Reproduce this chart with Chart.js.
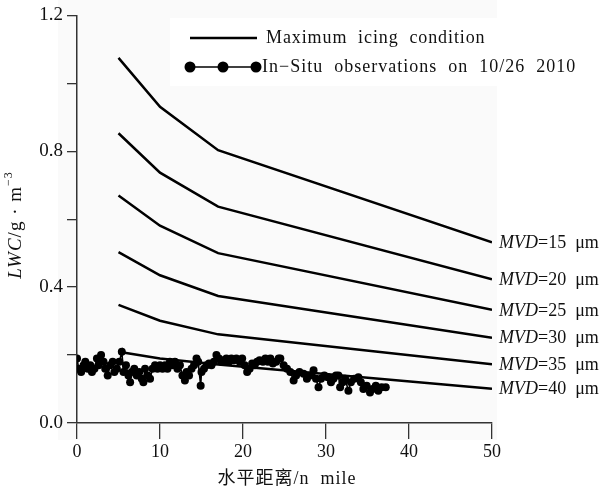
<!DOCTYPE html>
<html>
<head>
<meta charset="utf-8">
<script src="https://cdn.jsdelivr.net/npm/chart.js@4"></script>
<style>
  html, body { margin: 0; padding: 0; background: #fff; }
  #wrap { width: 606px; height: 492px; }
</style>
</head>
<body>
<div id="wrap"><canvas id="lwcChart" width="606" height="492"></canvas></div>
<script>
// Maximum icing condition curves (MVD in um)
const mvdSizes = [15, 20, 25, 30, 35, 40];
const mvdDistance = [5, 10, 17, 50];
const mvd15 = [1.075, 0.931, 0.803, 0.532];
const mvd20 = [0.853, 0.737, 0.637, 0.423];
const mvd25 = [0.670, 0.581, 0.500, 0.333];
const mvd30 = [0.503, 0.435, 0.374, 0.251];
const mvd35 = [0.348, 0.301, 0.261, 0.173];
const mvd40 = [0.210, 0.190, 0.172, 0.101];

// In-situ observations on 10/26 2010
const obsDistance = [0.0, 0.2, 0.5, 0.8, 1.0, 1.3, 1.6, 1.8, 2.1, 2.4, 2.6, 2.9, 3.2, 3.4, 3.7, 4.0, 4.3, 4.5, 4.8, 5.1,
  5.4, 5.6, 5.9, 6.2, 6.4, 6.6, 6.9, 7.2, 7.5, 7.8, 8.0, 8.2, 8.5, 8.8, 9.1, 9.4, 9.7, 10.0, 10.3, 10.6,
  10.9, 11.2, 11.5, 11.8, 12.1, 12.4, 12.7, 13.0, 13.2, 13.5, 13.8, 14.1, 14.4, 14.6, 14.9, 15.0, 15.3, 15.6, 15.9, 16.2,
  16.5, 16.8, 17.1, 17.4, 17.7, 18.0, 18.3, 18.6, 18.9, 19.2, 19.6, 19.9, 20.2, 20.5, 20.8, 21.1, 21.4, 21.7, 22.0, 22.4,
  22.7, 23.0, 23.3, 23.6, 24.0, 24.3, 24.5, 24.9, 25.3, 25.7, 26.1, 26.4, 26.8, 27.3, 27.7, 28.1, 28.5, 28.8, 29.1, 29.4,
  29.8, 30.2, 30.6, 30.9, 31.2, 31.5, 31.7, 32.0, 32.3, 32.7, 33.0, 33.4, 33.9, 34.2, 34.5, 34.9, 35.3, 35.6, 36.0, 36.3,
  36.7, 37.2];
const obsLwc = [0.19, 0.16, 0.15, 0.17, 0.18, 0.16, 0.17, 0.15, 0.16, 0.19, 0.17, 0.20, 0.18, 0.16, 0.14, 0.17, 0.18, 0.15, 0.16, 0.18,
  0.21, 0.15, 0.17, 0.14, 0.12, 0.15, 0.16, 0.14, 0.15, 0.13, 0.12, 0.16, 0.14, 0.13, 0.16, 0.17, 0.16, 0.17, 0.16, 0.17,
  0.16, 0.18, 0.17, 0.18, 0.16, 0.17, 0.14, 0.125, 0.15, 0.14, 0.16, 0.17, 0.19, 0.18, 0.11, 0.15, 0.16, 0.17, 0.175, 0.17,
  0.18, 0.20, 0.19, 0.18, 0.185, 0.19, 0.18, 0.19, 0.185, 0.19, 0.18, 0.19, 0.17, 0.15, 0.16, 0.175, 0.17, 0.18, 0.185, 0.18,
  0.19, 0.18, 0.19, 0.175, 0.18, 0.19, 0.19, 0.17, 0.16, 0.15, 0.125, 0.14, 0.15, 0.145, 0.13, 0.14, 0.155, 0.13, 0.105, 0.13,
  0.14, 0.135, 0.12, 0.13, 0.14, 0.14, 0.105, 0.12, 0.13, 0.095, 0.12, 0.13, 0.135, 0.12, 0.10, 0.11, 0.09, 0.10, 0.11, 0.095,
  0.105, 0.105];

const xTicks = [0, 10, 20, 30, 40, 50];
const yTicks = [0.0, 0.4, 0.8, 1.2];

const SERIF = '"Liberation Serif", "Noto Sans CJK SC", serif';
const curves = [mvd15, mvd20, mvd25, mvd30, mvd35, mvd40];

const datasets = curves.map((vals, i) => ({
  label: 'MVD=' + mvdSizes[i],
  data: mvdDistance.map((d, j) => ({ x: d, y: vals[j] })),
  showLine: true,
  borderColor: '#000',
  borderWidth: 2.5,
  pointRadius: 0,
  tension: 0
}));
datasets.push({
  label: 'In-Situ',
  data: obsDistance.map((d, j) => ({ x: d, y: obsLwc[j] })),
  showLine: true,
  borderColor: '#000',
  borderWidth: 1.6,
  pointRadius: 4,
  pointBackgroundColor: '#000',
  pointBorderWidth: 0,
  tension: 0
});

// faint panel behind the plot
const panelBg = {
  id: 'panelBg',
  beforeDraw(chart) {
    const ctx = chart.ctx;
    ctx.save();
    ctx.fillStyle = '#fff';
    ctx.fillRect(0, 0, chart.width, chart.height);
    ctx.fillStyle = '#fafafa';
    ctx.fillRect(58, 0, 439, 440);
    ctx.restore();
  }
};

// MVD labels at the end of each curve + axis titles + legend
const annotations = {
  id: 'annotations',
  afterDatasetsDraw(chart) {
    const ctx = chart.ctx;
    ctx.save();
    ctx.fillStyle = '#111';
    ctx.textBaseline = 'middle';
    ctx.textAlign = 'left';

    curves.forEach((vals, i) => {
      const pts = chart.getDatasetMeta(i).data;
      const end = pts[pts.length - 1];
      let x = end.x + 7;
      ctx.font = 'italic 18px ' + SERIF;
      ctx.fillText('MVD', x, end.y + 1);
      x += ctx.measureText('MVD').width;
      ctx.font = '18px ' + SERIF;
      ctx.fillText('=' + mvdSizes[i] + '  \u03bcm', x, end.y + 1);
    });

    // x title
    ctx.textAlign = 'center';
    ctx.font = '18px ' + SERIF;
    ctx.letterSpacing = '1px';
    ctx.fillText('\u6c34\u5e73\u8ddd\u79bb/n  mile', 287, 479);

    // y title (rotated)
    ctx.translate(16, 225);
    ctx.rotate(-Math.PI / 2);
    ctx.textAlign = 'left';
    const parts = [
      ['LWC', 'italic 19px ' + SERIF, 0],
      ['/g \u00b7 m', '19px ' + SERIF, 0],
      ['\u22123', '12px ' + SERIF, -7]
    ];
    let total = 0;
    parts.forEach(p => { ctx.font = p[1]; total += ctx.measureText(p[0]).width; });
    let px = -total / 2;
    parts.forEach(p => {
      ctx.font = p[1];
      ctx.fillText(p[0], px, p[2]);
      px += ctx.measureText(p[0]).width;
    });
    ctx.restore();

    // legend
    ctx.save();
    ctx.fillStyle = '#fff';
    ctx.fillRect(170, 18, 327, 68);
    ctx.strokeStyle = '#000';
    ctx.fillStyle = '#000';
    ctx.lineWidth = 2.5;
    ctx.beginPath();
    ctx.moveTo(190, 38);
    ctx.lineTo(257, 38);
    ctx.stroke();
    ctx.lineWidth = 1.5;
    ctx.beginPath();
    ctx.moveTo(190, 67);
    ctx.lineTo(256, 67);
    ctx.stroke();
    [190, 223, 256].forEach(cx => {
      ctx.beginPath();
      ctx.arc(cx, 67, 5.5, 0, Math.PI * 2);
      ctx.fill();
    });
    ctx.fillStyle = '#111';
    ctx.font = '18px ' + SERIF;
    ctx.textBaseline = 'middle';
    ctx.letterSpacing = '0.9px';
    ctx.fillText('Maximum  icing  condition', 266, 38);
    ctx.letterSpacing = '1px';
    ctx.fillText('In\u2212Situ  observations  on  10/26  2010', 262, 67);
    ctx.restore();
  }
};

new Chart(document.getElementById('lwcChart'), {
  type: 'scatter',
  data: { datasets },
  plugins: [panelBg, annotations],
  options: {
    responsive: false,
    animation: false,
    layout: { padding: { top: 11, right: 114, left: 0, bottom: 0 } },
    plugins: { legend: { display: false }, tooltip: { enabled: false } },
    scales: {
      x: {
        type: 'linear',
        min: 0,
        max: 50,
        afterFit: s => { s.height = 69; },
        afterBuildTicks: s => { s.ticks = xTicks.map(v => ({ value: v })); },
        ticks: { color: '#111', font: { family: SERIF, size: 18 }, padding: 2, maxRotation: 0 },
        grid: { drawOnChartArea: false, drawTicks: true, tickLength: 16, color: '#333', lineWidth: 1.3 },
        border: { display: true, color: '#333', width: 1.5 }
      },
      y: {
        min: 0,
        max: 1.2,
        afterFit: s => { s.width = 77; },
        ticks: {
          stepSize: 0.2,
          color: '#111',
          font: { family: SERIF, size: 19 },
          padding: 4,
          callback: v => yTicks.some(t => Math.abs(t - v) < 1e-6) ? v.toFixed(1) : ''
        },
        grid: { drawOnChartArea: false, drawTicks: true, tickLength: 10, color: '#333', lineWidth: 1.3 },
        border: { display: true, color: '#333', width: 1.5 }
      }
    }
  }
});
</script>
</body>
</html>
